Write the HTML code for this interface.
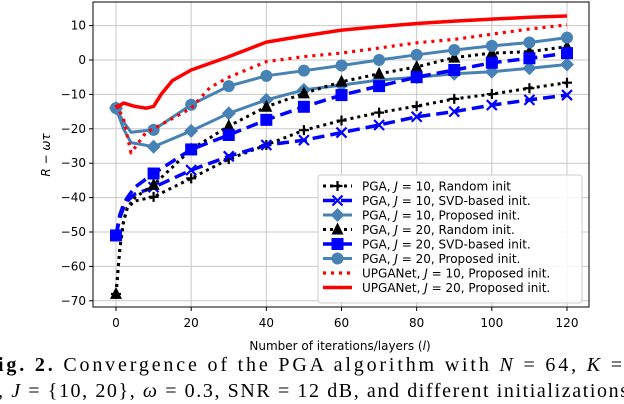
<!DOCTYPE html>
<html><head><meta charset="utf-8"><style>
html,body{margin:0;padding:0;background:#fff;overflow:hidden}
svg{display:block;font-family:"DejaVu Sans","Liberation Sans",sans-serif}
</style></head><body>
<svg id="chart" width="624" height="404" viewBox="0 0 624 404">
<g id="grid"></g>
<g id="series"></g>
<rect x="93" y="2" width="496" height="305" fill="none" stroke="#000" stroke-width="1"/>
<g id="ticks"></g>
<text x="340" y="350" font-size="12" text-anchor="middle">Number of iterations/layers (<tspan font-style="italic">l</tspan>)</text>
<text transform="translate(50,155) rotate(-90)" font-size="12" text-anchor="middle"><tspan font-style="italic">R</tspan> − <tspan font-style="italic">ωτ</tspan></text>
<g id="legend"></g>
<text x="-2" y="371" font-family="Liberation Serif,serif" font-size="20" textLength="624" lengthAdjust="spacing"><tspan font-weight="bold">ig. 2.</tspan>   Convergence of the PGA algorithm with <tspan font-style="italic">N</tspan> = 64, <tspan font-style="italic">K</tspan> =</text>
<text x="-2" y="397" font-family="Liberation Serif,serif" font-size="20" textLength="630" lengthAdjust="spacing">, <tspan font-style="italic">J</tspan> = {10, 20}, <tspan font-style="italic">ω</tspan> = 0.3, SNR = 12 dB, and different initializations</text>
</svg>
<script>
const xTicks=[0,20,40,60,80,100,120];
const yTicks=[10,0,-10,-20,-30,-40,-50,-60,-70];
const xP=[0,1,2,3,5,10,20,30,40,50,60,70,80,90,100,110,120];
const plusY=[-68,-55,-47,-43,-41,-39.8,-34.4,-28.8,-24.7,-20.4,-17.6,-15.3,-13.4,-11.3,-9.9,-8.2,-6.6];
const xSvd=[0,1,2,3,5,10,20,30,40,50,60,70,80,90,100,110,120];
const xmarkY=[-51,-46,-43,-41,-39,-37,-32,-28,-24.7,-23.3,-21.1,-18.9,-16.5,-15,-13.1,-11.6,-10.2];
const xProp=[0,2,4,10,20,30,40,50,60,70,80,90,100,110,120];
const diamondY=[-14,-20,-24,-25.2,-20.6,-15.5,-11.6,-8.7,-7.3,-5.8,-5,-4,-3.4,-2.4,-1.3];
const triY=[-68,-55,-47,-43,-40,-36.3,-26,-19.2,-13.6,-9.7,-6.3,-4,-2,0.7,2,2.4,3.9];
const squareY=[-51,-45,-42,-40,-37,-33,-26,-21.8,-17.4,-13.6,-10.2,-7.6,-5,-2.9,-0.8,0.5,2];
const circleY=[-14,-18,-21,-20.3,-13,-7.6,-4.6,-3.1,-1.6,0,1.5,2.9,4.1,5.1,6.5];
const xU10=[0,2,4,6,8,10,15,20,25,30,40,50,60,70,80,90,100,110,120];
const u10Y=[-13,-17,-27,-24,-21,-20,-17,-14,-8,-5,-0.5,1,2,3.5,5,6,7.5,9,10.2];
const xU20=[0,2,5,8,10,12,15,20,30,40,50,60,70,80,90,100,110,120];
const u20Y=[-14,-12.5,-13.5,-14,-13.5,-10,-6,-2.9,1,5.2,7,8.7,9.7,10.6,11.3,11.9,12.4,12.8];

const X=v=>116+(v/120)*(567-116);
const Y=v=>60-v*3.44;
const NS="http://www.w3.org/2000/svg";
function mk(tag,attrs,parent){const e=document.createElementNS(NS,tag);for(const k in attrs)e.setAttribute(k,attrs[k]);parent.appendChild(e);return e;}
const grid=document.getElementById('grid'),ticks=document.getElementById('ticks'),ser=document.getElementById('series'),leg=document.getElementById('legend');
xTicks.forEach(t=>{
  const l=mk('line',{x1:X(t),x2:X(t),y1:2,y2:307,stroke:'#c8c8c8','stroke-width':1},grid);
  
  
  mk('line',{x1:X(t),x2:X(t),y1:307,y2:311,stroke:'#000'},ticks);
  const tx=mk('text',{x:X(t),y:327,'font-size':12,'text-anchor':'middle'},ticks);tx.textContent=t;
  
  
});
yTicks.forEach(t=>{
  const l=mk('line',{x1:93,x2:589,y1:Y(t),y2:Y(t),stroke:'#c8c8c8','stroke-width':1},grid);
  
  
  mk('line',{x1:89,x2:93,y1:Y(t),y2:Y(t),stroke:'#000'},ticks);
  const tx=mk('text',{x:86,y:Y(t)+4,'font-size':12,'text-anchor':'end'},ticks);tx.textContent=(t<0?'−':'')+Math.abs(t);
  
  
});
function marker(type,cx,cy,color,g){
  if(type==='plus'){mk('path',{d:`M${cx-5} ${cy}H${cx+5}M${cx} ${cy-5}V${cy+5}`,stroke:color,'stroke-width':2.2},g);}
  else if(type==='x'){mk('path',{d:`M${cx-5} ${cy-5}L${cx+5} ${cy+5}M${cx-5} ${cy+5}L${cx+5} ${cy-5}`,stroke:color,'stroke-width':2.2},g);}
  else if(type==='diamond'){mk('path',{d:`M${cx} ${cy-7}L${cx+7} ${cy}L${cx} ${cy+7}L${cx-7} ${cy}Z`,fill:color},g);}
  else if(type==='tri'){mk('path',{d:`M${cx} ${cy-7}L${cx+6} ${cy+5}L${cx-6} ${cy+5}Z`,fill:color},g);}
  else if(type==='square'){mk('rect',{x:cx-6,y:cy-6,width:12,height:12,fill:color},g);}
  else if(type==='circle'){mk('circle',{cx,cy,r:6,fill:color},g);}
}
const specs=[
 {name:'pga-j10-random',xs:xP,ys:plusY,color:'#000',dash:'3,4',w:3,m:'plus',label:'PGA, J = 10, Random init'},
 {name:'pga-j10-svd',xs:xSvd,ys:xmarkY,color:'#0000ff',dash:'12,6',w:3.5,m:'x',label:'PGA, J = 10, SVD-based init.'},
 {name:'pga-j10-proposed',xs:xProp,ys:diamondY,color:'#4682b4',dash:'',w:3,m:'diamond',label:'PGA, J = 10, Proposed init.'},
 {name:'pga-j20-random',xs:xP,ys:triY,color:'#000',dash:'3,4',w:3,m:'tri',label:'PGA, J = 20, Random init.'},
 {name:'pga-j20-svd',xs:xP,ys:squareY,color:'#0000ff',dash:'12,6',w:3.5,m:'square',label:'PGA, J = 20, SVD-based init.'},
 {name:'pga-j20-proposed',xs:xProp,ys:circleY,color:'#4682b4',dash:'',w:3,m:'circle',label:'PGA, J = 20, Proposed init.'},
 {name:'upganet-j10',xs:xU10,ys:u10Y,color:'#ff0000',dash:'3,5',w:3.2,m:null,label:'UPGANet, J = 10, Proposed init.'},
 {name:'upganet-j20',xs:xU20,ys:u20Y,color:'#ff0000',dash:'',w:3.5,m:null,label:'UPGANet, J = 20, Proposed init.'}
];
specs.forEach(s=>{
  const g=mk('g',{},ser);
  
  
  const d=s.xs.map((x,i)=>(i?'L':'M')+X(x).toFixed(1)+' '+Y(s.ys[i]).toFixed(1)).join('');
  const a={d,fill:'none',stroke:s.color,'stroke-width':s.w,'stroke-linejoin':'round'};if(s.dash)a['stroke-dasharray']=s.dash;
  mk('path',a,g);
  if(s.m)s.xs.forEach((x,i)=>{if(x%10===0)marker(s.m,X(x),Y(s.ys[i]),s.color,g);});
});
mk('rect',{x:318,y:175,width:264,height:128,rx:3,fill:'#fff','fill-opacity':0.85,stroke:'#ccc'},leg);
specs.forEach((s,i)=>{
  const y=186+i*14.5;
  const g=mk('g',{},leg);
  
  
  const a={x1:323,x2:352,y1:y,y2:y,stroke:s.color,'stroke-width':s.w};if(s.dash)a['stroke-dasharray']=s.dash;
  mk('line',a,g);
  if(s.m)marker(s.m,337.5,y,s.color,g);
  const t=mk('text',{x:362,y:y+4.5,'font-size':12},g);
  const p=s.label.split('J');
  t.appendChild(document.createTextNode(p[0]));
  const it=mk('tspan',{'font-style':'italic'},t);it.textContent='J';
  t.appendChild(document.createTextNode(p[1]));
});
</script>
</body></html>
